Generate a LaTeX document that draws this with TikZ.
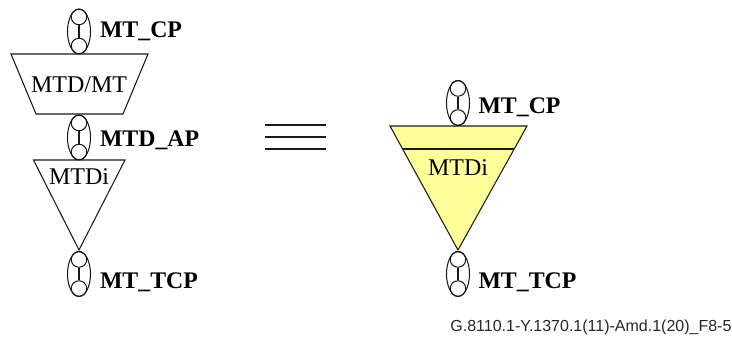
\documentclass[tikz,border=0pt]{standalone}
\usepackage{fontspec}
\usetikzlibrary{shapes.geometric}
\setmainfont{Liberation Serif}
\newfontfamily\footfont{Liberation Sans}
\definecolor{adapt}{RGB}{255,255,153}
\tikzset{
  x=1pt,y=-1pt,
  every path/.style={line width=1.05pt,black!90},
  oval/.style={draw,ellipse,minimum width=23pt,minimum height=45pt,inner sep=0pt},
  dot/.style={draw,circle,minimum size=15.5pt,inner sep=0pt},
  plabel/.style={anchor=base west,inner sep=0pt,font=\fontsize{23.8}{24}\selectfont\bfseries,text=black},
  blabel/.style={inner sep=0pt,font=\fontsize{24}{24}\selectfont,text=black},
  unit/.style={draw,line join=miter}
}
\newcommand{\portsym}[3]{%
  \node[oval] (#1o) at (#2,#3) {};
  \node[dot] (#1a) at (#2,#3-14.5) {};
  \node[dot] (#1b) at (#2,#3+14.5) {};
  \draw (#1a) -- (#1b);
}
\begin{document}
\begin{tikzpicture}
\useasboundingbox (0,0) rectangle (732,338);
% left
\draw[unit] (11,54) -- (148,54) -- (123,114) -- (36,114) -- cycle;
\draw[unit] (33.5,160) -- (125,160) -- (79,250) -- cycle;
\portsym{cpl}{79}{31.5}
\portsym{apl}{79}{137.5}
\portsym{tcl}{79}{274}
\node[blabel] (mtdmt) at (79,85) {MTD/MT};
\node[blabel] (mtdil) at (79,177) {MTDi};
\node[plabel] (lcp) at (99.5,37) {MT\_CP};
\node[plabel] (lap) at (99.5,146) {MTD\_AP};
\node[plabel] (ltc) at (99.5,288) {MT\_TCP};
% equivalence
\draw (265,125) -- (326,125);
\draw (265,137) -- (326,137);
\draw (265,149) -- (326,149);
% right
\draw[unit,fill=adapt] (390,126) -- (527,126) -- (458,250) -- cycle;
\draw (403,149) -- (514,149);
\portsym{cpr}{458}{103}
\portsym{tcr}{458}{274}
\node[blabel] (mtdir) at (458,168) {MTDi};
\node[plabel] (rcp) at (478,113) {MT\_CP};
\node[plabel] (rtc) at (478,288) {MT\_TCP};
% reference
\node[anchor=base east,inner sep=0pt,font=\footfont\fontsize{16}{16}\selectfont,text=black!85] (ref) at (732,331) {G.8110.1-Y.1370.1(11)-Amd.1(20)\_F8-5};
\end{tikzpicture}
\end{document}
